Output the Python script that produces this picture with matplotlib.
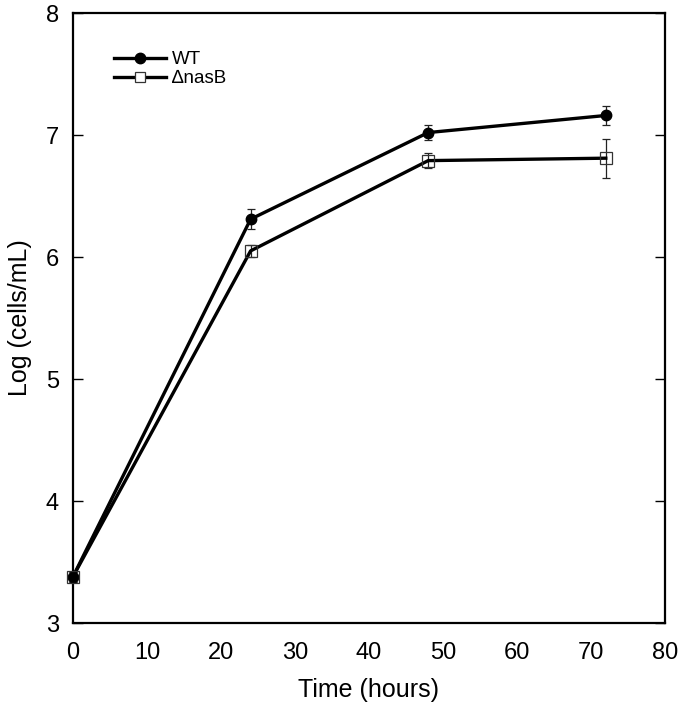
import matplotlib
matplotlib.use("Agg")
import matplotlib.pyplot as plt
from matplotlib.lines import Line2D

plt.rcParams['font.family'] = ['Liberation Sans', 'DejaVu Sans']

# data
hours = [0, 24, 48, 72]
wt = [3.38, 6.31, 7.02, 7.16]
wt_err = [0.04, 0.08, 0.06, 0.075]
nasb = [3.38, 6.05, 6.79, 6.81]
nasb_err = [0.04, 0.05, 0.06, 0.16]

fig = plt.figure(figsize=(6.8, 7.06), dpi=100)
ax = fig.add_axes([73/680, 1 - 623/706, (665-73)/680, (623-13)/706])

ax.errorbar(hours, wt, yerr=wt_err, color='black', lw=2.4, marker='o',
            ms=7.5, mfc='black', mec='black', ecolor='#222222', elinewidth=0.9,
            capsize=3, capthick=0.9, zorder=3, clip_on=False)
ax.errorbar(hours, nasb, yerr=nasb_err, color='black', lw=2.4, marker='s',
            ms=8, mfc='none', mec='#333333', mew=0.9, ecolor='#222222',
            elinewidth=0.9, capsize=3, capthick=0.9, zorder=3, clip_on=False)

ax.set_xlim(0, 80)
ax.set_ylim(3, 8)
ax.set_xticks(range(0, 81, 10))
ax.set_yticks(range(3, 9))
ax.tick_params(axis='x', length=0, labelsize=17, pad=14)
ax.tick_params(axis='y', direction='in', length=7, width=1, left=True,
               right=True, labelsize=17, pad=10)
for s in ax.spines.values():
    s.set_linewidth(1.6)

ax.set_xlabel('Time (hours)', fontsize=18, labelpad=10)
ax.set_ylabel('Log (cells/mL)', fontsize=18, labelpad=10)

handles = [
    Line2D([], [], color='black', lw=2.4, marker='o', ms=7.5, mfc='black'),
    Line2D([], [], color='black', lw=2.4, marker='s', ms=7, mfc='white',
           mec='#333333', mew=0.9),
]
ax.legend(handles, ['WT', '\u2206nasB'], loc='upper left',
          bbox_to_anchor=(0.04, 0.965), frameon=False, fontsize=13.5,
          handlelength=2.8, handletextpad=0.3, labelspacing=0.1)

fig.savefig('out.png', dpi=100)
